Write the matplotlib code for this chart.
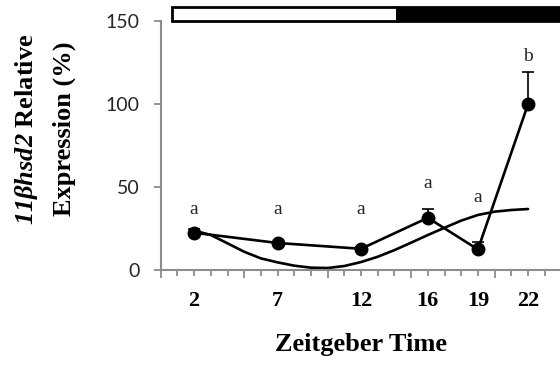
import matplotlib
matplotlib.use("Agg")
import matplotlib.pyplot as plt
from matplotlib.patches import Rectangle
from matplotlib.ticker import MultipleLocator, NullFormatter

plt.rcParams['mathtext.fontset'] = 'custom'
plt.rcParams['mathtext.it'] = 'Liberation Serif:italic:bold'
plt.rcParams['mathtext.rm'] = 'Liberation Serif:italic:bold'

# measured expression (mean + upper SEM) at each Zeitgeber time
zt = [2, 7, 12, 16, 19, 22]
expression = [22.5, 16.3, 12.8, 31.5, 12.4, 100.0]
sem = [2.0, 0.8, 0.8, 5.6, 4.2, 19.4]
letters = ['a', 'a', 'a', 'a', 'a', 'b']
letter_y = [36.8, 36.8, 36.8, 52.3, 44.0, 128.7]

# fitted rhythm curve
fit_zt = [2, 3, 4, 5, 6, 7, 8, 9, 10, 11, 12, 13, 14, 15, 16, 17, 18, 19, 20, 21, 22]
fit_val = [23.8, 21.1, 16.1, 11.0, 7.0, 4.6, 2.6, 1.4, 1.2, 2.4, 4.8, 8.0, 12.0,
           16.5, 21.1, 25.5, 29.8, 33.2, 35.2, 36.2, 36.8]

# light / dark bar (ZT)
light_start, light_end, dark_end = 0.66, 14.16, 24.2

grey = '#8c8c8c'
txt = '#262626'

fig = plt.figure(figsize=(5.6, 3.65), dpi=100)
ax = fig.add_axes([0.287, 0.2603, 0.7155, 0.681])

ax.plot(fit_zt, fit_val, color='black', lw=1.9, solid_capstyle='round')
ax.errorbar(zt, expression, yerr=[[0] * len(sem), sem], color='black', lw=1.9,
            marker='o', ms=9, ecolor='black', elinewidth=1.2, capsize=4, capthick=1.2)

for x, y, s in zip(zt, letter_y, letters):
    ax.text(x, y, s, ha='center', va='center', fontsize=14,
            family='Liberation Serif', color=txt)

# light/dark bar above the axes
ax.add_patch(Rectangle((light_start, 150), light_end - light_start, 9,
                       facecolor='white', edgecolor='black', lw=2, clip_on=False))
ax.add_patch(Rectangle((light_end, 150), dark_end - light_end, 9,
                       facecolor='black', edgecolor='black', lw=2, clip_on=False))

ax.set_xlim(0, 24)
ax.set_ylim(0, 150)

ax.set_yticks([0, 50, 100, 150])
ax.set_yticklabels(['0', '50', '100', '150'], family='Lato', fontsize=14, color=txt)
ax.tick_params(axis='y', direction='out', length=5, width=1.3, color=grey, pad=10)

ax.xaxis.set_major_locator(MultipleLocator(5))
ax.xaxis.set_major_formatter(NullFormatter())
ax.xaxis.set_minor_locator(MultipleLocator(1))
ax.tick_params(axis='x', which='major', direction='out', length=6, width=1.3, color=grey)
ax.tick_params(axis='x', which='minor', direction='out', length=4, width=1.3, color=grey)

for x in zt:
    ax.text(x, -19, str(x), ha='center', va='center', fontsize=16,
            family='Liberation Serif', fontweight='bold', color='black')

ax.set_xlabel('Zeitgeber Time', family='Liberation Serif', fontweight='bold',
              fontsize=19, labelpad=36)

for side in ['top', 'right']:
    ax.spines[side].set_visible(False)
for side in ['left', 'bottom']:
    ax.spines[side].set_color(grey)
    ax.spines[side].set_linewidth(1.5)

fig.text(0.048, 1 - 129 / 365, r'$\mathrm{11\beta hsd2}$ Relative', rotation=90,
         ha='center', va='center', fontsize=19, family='Liberation Serif', fontweight='bold')
fig.text(0.114, 1 - 129 / 365, 'Expression (%)', rotation=90,
         ha='center', va='center', fontsize=19, family='Liberation Serif', fontweight='bold')

fig.savefig('out.png', dpi=100)
